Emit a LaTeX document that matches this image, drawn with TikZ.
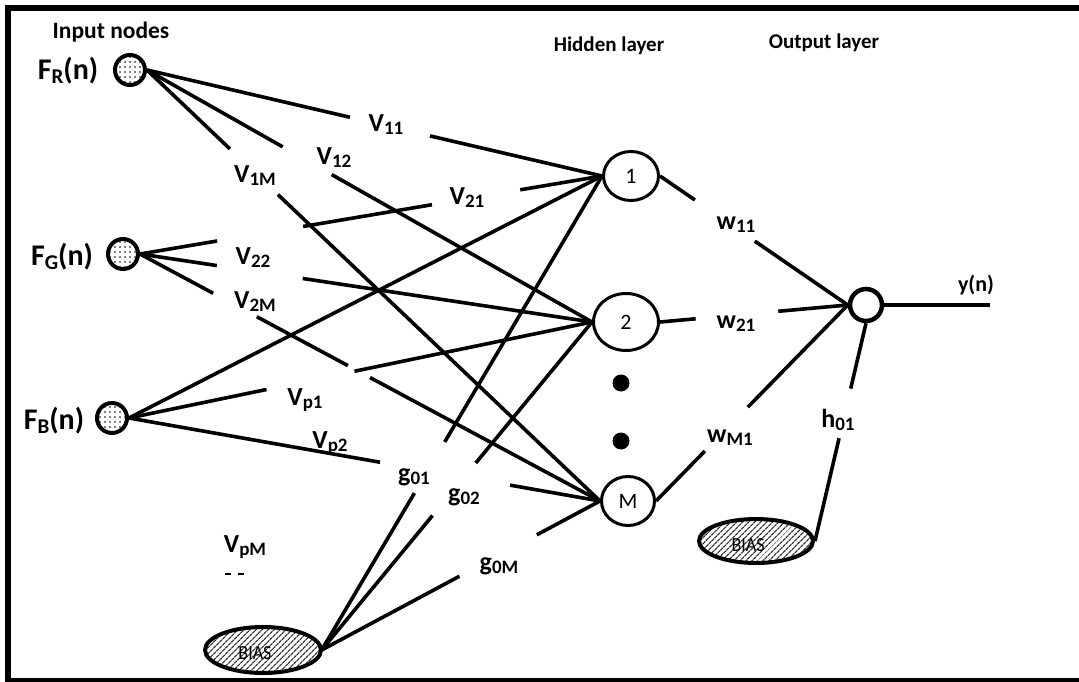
\documentclass[tikz,border=0pt]{standalone}
\usepackage{fontspec}
\setmainfont{Carlito}
\usetikzlibrary{patterns.meta,calc,shapes.geometric}
\newcommand\lbl[2]{{\bfseries #1\raisebox{-3pt}{\fontsize{19}{19}\selectfont #2}}}
\newcommand\biglbl[2]{{\bfseries #1\raisebox{-3.5pt}{\fontsize{21}{21}\selectfont #2}(n)}}
\newcommand\gapline[4]{\draw[conn] (#1) -- ($(#1)!#3!(#2)$) ($(#1)!#4!(#2)$) -- (#2);}
\begin{document}
\begin{tikzpicture}[x=1pt,y=-1pt,
  conn/.style={line width=3.6pt},
  innode/.style={circle,draw,line width=4pt,minimum size=30pt,inner sep=0pt,
    pattern={Dots[radius=0.9pt,distance=5pt]}},
  hidnode/.style={ellipse,draw,line width=3pt,inner sep=0pt,font=\fontsize{22}{22}\selectfont},
  outnode/.style={circle,draw,line width=4.5pt,minimum size=32pt,inner sep=0pt},
  biasnode/.style={ellipse,draw,line width=4pt,inner sep=0pt,
    pattern={Lines[angle=45,distance=4pt,line width=1.3pt]},pattern color=black!80},
  biastext/.style={inner sep=0pt,font=\fontsize{20}{20}\selectfont,xscale=0.9},
  wlabel/.style={inner sep=0pt,font=\fontsize{26}{26}\selectfont},
  flabel/.style={inner sep=0pt,font=\fontsize{30}{30}\selectfont},
  title/.style={inner sep=0pt,font=\fontsize{21}{21}\selectfont\bfseries},
  dot/.style={circle,fill,minimum size=17pt,inner sep=0pt}]
\useasboundingbox (0,0) rectangle (1079,682);
\clip (0,0) rectangle (1079,682);
% frame
\draw[line width=6pt] (8,700) -- (8,8) -- (1100,8);
\draw[line width=5pt] (5,680) -- (1100,680);
% titles
\node[title,font=\fontsize{23.5}{23.5}\selectfont\bfseries] (tin) at (111,32) {Input nodes};
\node[title] (thid) at (609,46) {Hidden layer};
\node[title] (tout) at (824,43) {Output layer};
% input nodes
\node[innode] (FR) at (130,70) {};
\node[innode] (FG) at (123,254) {};
\node[innode] (FB) at (112,418) {};
\node[flabel] (lFR) at (68,71) {\biglbl{F}{R}};
\node[flabel] (lFG) at (62,257) {\biglbl{F}{G}};
\node[flabel] (lFB) at (54,421) {\biglbl{F}{B}};
% hidden nodes
\node[hidnode,minimum width=55pt,minimum height=49pt] (H1) at (631,176) {1};
\node[hidnode,minimum width=65pt,minimum height=57pt] (H2) at (626,322) {2};
\node[hidnode,minimum width=53pt,minimum height=49pt] (HM) at (628,501) {M};
\node[dot] (d1) at (621,383) {};
\node[dot] (d2) at (621,441) {};
% output node
\node[outnode] (O) at (866,305) {};
\coordinate (yend) at (990,305);
\node[title,font=\fontsize{22}{22}\selectfont\bfseries] (ly) at (976,285) {y(n)};
% bias nodes
\node[biasnode,minimum width=116pt,minimum height=46pt] (B1) at (263,650) {};
\node[biasnode,minimum width=114pt,minimum height=44pt] (B2) at (756,541) {};
\node[biastext] (tb1) at (255,653) {BIAS};
\node[biastext] (tb2) at (748,545) {BIAS};
% input -> hidden connectors
\gapline{FR.east}{H1.west}{0.446}{0.622}
\gapline{FR.east}{H2.west}{0.305}{0.415}
\gapline{FR.east}{HM.west}{0.183}{0.289}
\draw[conn] (FG.east) -- ($(FG.east)!0.167!(H1.west)$)
  ($(FG.east)!0.353!(H1.west)$) -- ($(FG.east)!0.632!(H1.west)$)
  ($(FG.east)!0.823!(H1.west)$) -- (H1.west);
\gapline{FG.east}{H2.west}{0.17}{0.36}
\draw[conn] (FG.east) -- ($(FG.east)!0.159!(HM.west)$)
  ($(FG.east)!0.254!(HM.west)$) -- ($(FG.east)!0.452!(HM.west)$)
  ($(FG.east)!0.5!(HM.west)$) -- (HM.west);
\draw[conn] (FB.east) -- (H1.west);
\gapline{FB.east}{H2.west}{0.297}{0.487}
\gapline{FB.east}{HM.west}{0.533}{0.809}
% bias -> hidden
\gapline{B1.east}{H1.west}{0.331}{0.439}
\gapline{B1.east}{H2.west}{0.41}{0.57}
\gapline{B1.east}{HM.west}{0.495}{0.773}
% hidden -> output
\gapline{H1.east}{O.west}{0.186}{0.505}
\gapline{H2.east}{O.west}{0.19}{0.63}
\gapline{HM.east}{O.west}{0.255}{0.479}
\gapline{B2.east}{O.south}{0.472}{0.70}
\draw[conn] (O.east) -- (yend);
% weight labels
\node[wlabel] (v11) at (386,125) {\lbl{V}{11}};
\node[wlabel] (v12) at (334,158) {\lbl{V}{12}};
\node[wlabel] (v1m) at (255,176) {\lbl{V}{1M}};
\node[wlabel] (v21) at (467,198) {\lbl{V}{21}};
\node[wlabel] (v22) at (253,258) {\lbl{V}{22}};
\node[wlabel] (v2m) at (255,302) {\lbl{V}{2M}};
\node[wlabel] (vp1) at (305,400) {\lbl{V}{p1}};
\node[wlabel] (vp2) at (330,443) {\lbl{V}{p2}};
\node[wlabel] (vpm) at (245,547) {\lbl{V}{pM}};
\draw[line width=2pt] (225,574) -- (231,574) (238,574) -- (244,574);
\node[wlabel] (g01) at (414,477) {\lbl{g}{01}};
\node[wlabel] (g02) at (464,497) {\lbl{g}{02}};
\node[wlabel] (g0m) at (499,566) {\lbl{g}{0M}};
\node[wlabel] (w11) at (736,225) {\lbl{w}{11}};
\node[wlabel] (w21) at (736,324) {\lbl{w}{21}};
\node[wlabel] (wm1) at (730,438) {\lbl{w}{M1}};
\node[wlabel] (h01) at (838,420) {\lbl{h}{01}};
\end{tikzpicture}
\end{document}
